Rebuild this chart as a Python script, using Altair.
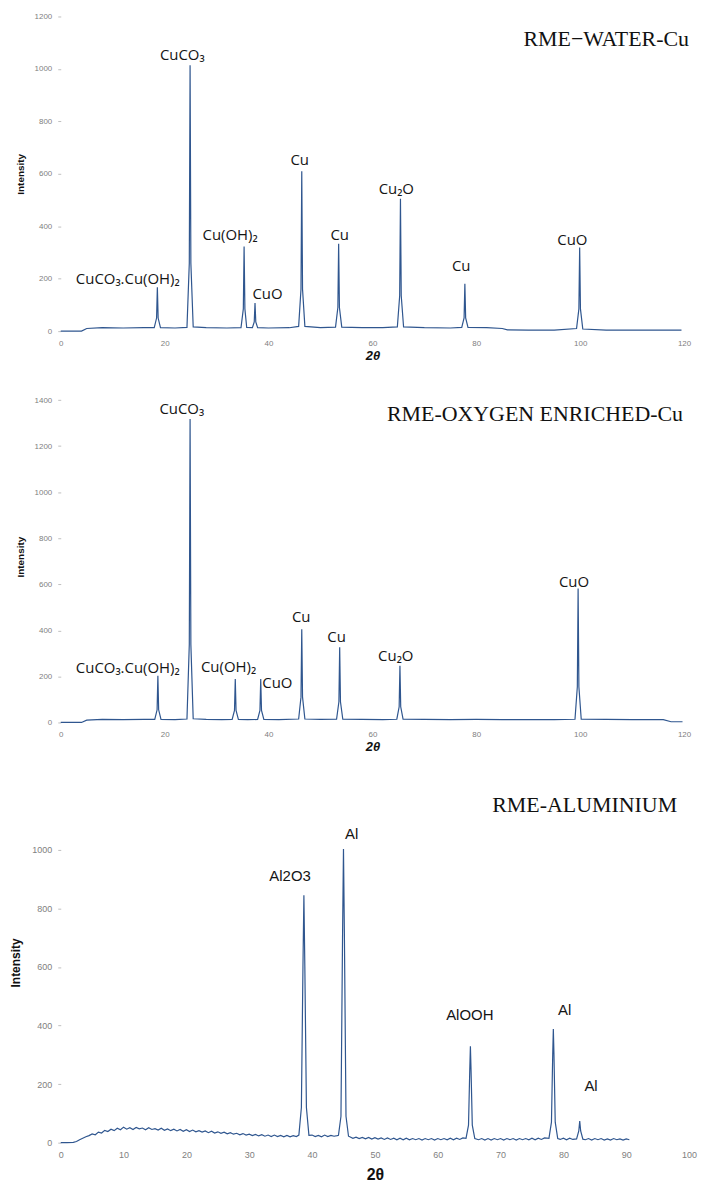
import altair as alt
import pandas as pd

LINE = "#2f568f"

# ---------------- Panel 1 : RME-WATER-Cu ----------------
x1 = [0, 4, 5, 8, 12, 16,
      18.0, 18.45, 18.6, 18.75, 19.2,
      22,
      24.3, 24.75, 24.9, 25.05, 25.5,
      28, 32,
      34.7, 35.15, 35.3, 35.45, 35.8,
      36.9, 37.25, 37.4, 37.55, 37.9,
      40, 44,
      45.8, 46.25, 46.4, 46.55, 47.0,
      50,
      52.9, 53.35, 53.5, 53.65, 54.1,
      58, 62,
      64.8, 65.25, 65.4, 65.55, 66.0,
      70, 75,
      77.2, 77.65, 77.8, 77.95, 78.4,
      82, 85, 86, 90, 95,
      99.3, 99.75, 99.9, 100.05, 100.5,
      105, 110, 115, 119.5]
y1 = [0, 0, 10, 13, 12, 13,
      13, 50, 167, 50, 13,
      12,
      14, 260, 1014, 260, 16,
      13, 12,
      13, 85, 323, 85, 14,
      13, 35, 107, 35, 13,
      12, 13,
      18, 160, 610, 160, 18,
      13,
      15, 90, 333, 90, 15,
      13, 13,
      16, 135, 505, 135, 16,
      13, 12,
      14, 50, 181, 50, 14,
      13, 10, 5, 4, 4,
      10, 85, 319, 85, 8,
      4, 4, 4, 4]
lab1_text = ["CuCO₃.Cu(OH)₂", "CuCO₃", "Cu(OH)₂", "CuO", "Cu", "Cu", "Cu₂O", "Cu", "CuO"]
lab1_x = [12.9, 23.4, 32.6, 39.8, 46.0, 53.7, 64.6, 77.1, 98.5]
lab1_y = [198, 1052, 368, 141, 653, 368, 543, 247, 349]

# ---------------- Panel 2 : RME-OXYGEN ENRICHED-Cu ----------------
x2 = [0, 4, 5, 8, 12, 16,
      18.1, 18.55, 18.7, 18.85, 19.3,
      22,
      24.3, 24.75, 24.9, 25.05, 25.5,
      28, 31,
      33.0, 33.45, 33.6, 33.75, 34.2,
      36,
      37.9, 38.35, 38.5, 38.65, 39.1,
      42,
      45.8, 46.25, 46.4, 46.55, 47.0,
      50,
      53.1, 53.55, 53.7, 53.85, 54.3,
      58, 62,
      64.7, 65.15, 65.3, 65.45, 65.9,
      70, 75, 80, 85, 90, 95,
      99.0, 99.45, 99.6, 99.75, 100.2,
      105, 110, 116, 117.5, 119.7]
y2 = [0, 0, 10, 13, 12, 13,
      13, 55, 203, 55, 13,
      12,
      15, 340, 1318, 340, 16,
      13, 12,
      13, 52, 189, 52, 13,
      12,
      13, 52, 189, 52, 13,
      12,
      15, 110, 405, 110, 15,
      13,
      14, 90, 327, 90, 14,
      13, 12,
      14, 68, 246, 68, 14,
      13, 12, 13, 12, 12, 12,
      14, 155, 582, 155, 14,
      13, 12, 12, 3, 3]
lab2_text = ["CuCO₃.Cu(OH)₂", "CuCO₃", "Cu(OH)₂", "CuO", "Cu", "Cu", "Cu₂O", "CuO"]
lab2_x = [12.9, 23.3, 32.3, 41.7, 46.3, 53.1, 64.5, 98.8]
lab2_y = [238, 1361, 239, 171, 459, 369, 287, 611]

# ---------------- Panel 3 : RME-ALUMINIUM ----------------
x3 = [0, 1, 2, 2.5, 3, 3.5, 4, 4.5, 5, 5.5, 6, 6.5, 7, 7.5, 8, 8.5, 9, 9.5,
      10, 10.5, 11, 11.5, 12, 12.5, 13, 13.5, 14, 14.5, 15, 15.5, 16, 16.5,
      17, 17.5, 18, 18.5, 19, 19.5, 20, 20.5, 21, 21.5, 22, 22.5, 23, 23.5,
      24, 24.5, 25, 25.5, 26, 26.5, 27, 27.5, 28, 28.5, 29, 29.5, 30, 30.5,
      31, 31.5, 32, 32.5, 33, 33.5, 34, 34.5, 35, 35.5, 36, 36.5, 37, 37.5,
      37.9, 38.3, 38.55, 38.7, 38.85, 39.1, 39.5,
      40, 40.5, 41, 41.5, 42, 42.5, 43, 43.5, 44,
      44.2, 44.6, 44.85, 45.0, 45.15, 45.4, 45.8,
      46, 46.5, 47, 47.5, 48, 48.5, 49, 49.5, 50, 50.5, 51, 51.5, 52, 52.5,
      53, 53.5, 54, 54.5, 55, 55.5, 56, 56.5, 57, 57.5, 58, 58.5, 59, 59.5,
      60, 60.5, 61, 61.5, 62, 62.5, 63, 63.5, 64,
      64.5, 64.9, 65.1, 65.2, 65.3, 65.5, 65.9,
      66.5, 67, 67.5, 68, 68.5, 69, 69.5, 70, 70.5, 71, 71.5, 72, 72.5, 73,
      73.5, 74, 74.5, 75, 75.5, 76, 76.5, 77,
      77.7, 78.1, 78.3, 78.4, 78.5, 78.7, 79.1,
      79.5, 80, 80.5, 81, 81.5,
      82.1, 82.45, 82.6, 82.75, 83.1,
      83.5, 84, 84.5, 85, 85.5, 86, 86.5, 87, 87.5, 88, 88.5, 89, 89.5, 90, 90.5]
y3 = [0, 0, 1, 4, 10, 15, 20, 24, 30, 27, 36, 33, 42, 38, 46, 41, 49, 44,
      53, 46, 51, 45, 52, 47, 50, 44, 51, 45, 48, 43, 49, 42,
      47, 41, 46, 40, 45, 39, 44, 38, 43, 37, 41, 36, 40, 34,
      39, 33, 37, 32, 36, 30, 34, 29, 32, 27, 31, 26, 29, 24,
      28, 23, 27, 22, 26, 21, 26, 21, 25, 20, 25, 20, 24, 21,
      26, 120, 600, 845, 600, 120, 25,
      26, 21, 25, 20, 26, 21, 25, 22, 24,
      25, 90, 700, 1003, 700, 90, 22,
      20, 15, 19, 14, 18, 13, 18, 12, 17, 12, 16, 11, 16, 11,
      15, 10, 15, 10, 15, 10, 14, 10, 14, 9, 14, 10, 14, 9,
      14, 10, 14, 10, 15, 10, 15, 11, 16,
      15, 60, 250, 329, 250, 60, 14,
      10, 14, 9, 14, 9, 14, 10, 14, 9, 14, 10, 14, 9, 14,
      10, 14, 10, 15, 10, 15, 11, 16,
      15, 70, 300, 388, 300, 70, 14,
      11, 15, 10, 15, 11,
      13, 40, 74, 40, 12,
      10, 14, 9, 14, 10, 14, 9, 13, 9, 14, 10, 13, 9, 13, 10]
lab3_text = ["Al2O3", "Al", "AlOOH", "Al", "Al"]
lab3_x = [36.5, 46.3, 65.1, 80.2, 84.4]
lab3_y = [912, 1054, 436, 453, 193]

titles = ["RME−WATER-Cu", "RME-OXYGEN ENRICHED-Cu", "RME-ALUMINIUM"]


def panel(xs, ys, lx, ly, lt, xmax, xticks, ymax, yticks, width, height,
          title, title_right, label_font, label_size, xtitle_style, xtitle_size,
          ytitle_size, tick_label_size, xtitle_pad):
    df = pd.DataFrame({"x": xs, "y": ys})
    ldf = pd.DataFrame({"x": lx, "y": ly, "t": lt})
    tdf = pd.DataFrame({"t": [title]})
    xscale = alt.Scale(domain=[0, xmax], nice=False, zero=False)
    yscale = alt.Scale(domain=[0, ymax], nice=False, zero=False)
    xaxis = alt.Axis(values=xticks, title="2θ", domain=False, ticks=False, grid=False,
                     format="d", labelFlush=False,
                     labelPadding=8, labelFontSize=tick_label_size, labelColor="#808080",
                     labelFont="Liberation Sans", titleFont="Liberation Sans",
                     titleFontSize=xtitle_size, titleFontWeight="bold",
                     titleFontStyle=xtitle_style, titleColor="#111", titlePadding=xtitle_pad)
    yaxis = alt.Axis(values=yticks, title="Intensity", domain=False, grid=False,
                     format="d", labelFlush=False,
                     tickSize=3, tickColor="#c0c0c0", labelPadding=6,
                     labelFontSize=tick_label_size, labelColor="#808080",
                     labelFont="Liberation Sans", titleFont="Liberation Sans",
                     titleFontSize=ytitle_size, titleFontWeight="bold",
                     titleColor="#111", titlePadding=9)
    line = alt.Chart(df).mark_line(color=LINE, strokeWidth=1.2).encode(
        x=alt.X("x:Q", scale=xscale, axis=xaxis),
        y=alt.Y("y:Q", scale=yscale, axis=yaxis),
    )
    labels = alt.Chart(ldf).mark_text(font=label_font, fontSize=label_size,
                                      color="#151515", baseline="middle").encode(
        x=alt.X("x:Q", scale=xscale, axis=xaxis),
        y=alt.Y("y:Q", scale=yscale, axis=yaxis),
        text="t:N",
    )
    ttl = alt.Chart(tdf).mark_text(font="Liberation Serif", fontSize=22, color="#111",
                                   align="right", baseline="middle").encode(
        x=alt.value(title_right), y=alt.value(23), text="t:N")
    return alt.layer(line, labels, ttl).properties(width=width, height=height)


p1 = panel(x1, y1, lab1_x, lab1_y, lab1_text, 120, [0, 20, 40, 60, 80, 100, 120],
           1200, [0, 200, 400, 600, 800, 1000, 1200], 626, 316,
           titles[0], 631, "Open Sans", 15, "italic", 13, 10, 8, 2)
p2 = panel(x2, y2, lab2_x, lab2_y, lab2_text, 120, [0, 20, 40, 60, 80, 100, 120],
           1440, [0, 200, 400, 600, 800, 1000, 1200, 1400], 626, 333,
           titles[1], 625, "Open Sans", 15, "italic", 13, 10, 8, 2)
p3 = panel(x3, y3, lab3_x, lab3_y, lab3_text, 100, [0, 10, 20, 30, 40, 50, 60, 70, 80, 90, 100],
           1231, [0, 200, 400, 600, 800, 1000], 631, 362,
           titles[2], 619, "Liberation Sans", 15, "normal", 16, 12, 9, 7)

chart = alt.vconcat(p1, p2, p3, spacing=60, bounds="flush").configure_view(
    stroke=None).properties(padding={"left": 9, "top": 10, "right": 5, "bottom": 5},
                            background="white")

chart.save("out.html", embed_options={"renderer": "svg", "actions": False})
